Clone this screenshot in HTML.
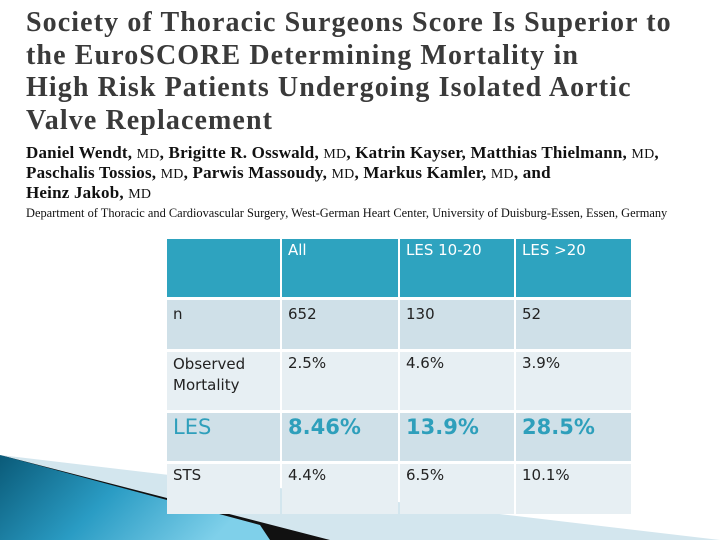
<!DOCTYPE html>
<html><head><meta charset="utf-8"><style>
body{margin:0;width:720px;height:540px;overflow:hidden;background:#fff;position:relative;font-family:"Liberation Serif",serif}
.t{position:absolute;left:26px;top:7px;font-weight:bold;font-size:28px;line-height:32.5px;color:#3a3a3a;letter-spacing:1.1px;white-space:nowrap}
.a{position:absolute;left:26px;top:144px;font-size:17px;line-height:18px;color:#111;font-weight:bold;letter-spacing:0.2px;white-space:nowrap}
.a small{font-size:14px;font-weight:normal}
.d{position:absolute;left:26px;top:206px;font-size:12.4px;color:#111;white-space:nowrap}
table{position:absolute;left:165px;top:236px;border-collapse:separate;border-spacing:2px 3px;font-family:"DejaVu Sans","Liberation Sans",sans-serif;font-size:15px;color:#222}
td{vertical-align:top;padding:2px 6px;box-sizing:border-box}
tr.h td{background:#2ea3bf;color:#fff;height:58px}
tr.dk td{background:#cfe0e8}
tr.lt td{background:#e7eff3}
tr.les td{font-size:21px;font-weight:bold;color:#2e9fbb}
</style></head><body>
<svg style="position:absolute;left:0;top:0" width="720" height="540">
<defs><linearGradient id="g" x1="0" y1="0" x2="1" y2="0.3"><stop offset="0" stop-color="#0a5a78"/><stop offset="0.5" stop-color="#2a9cc4"/><stop offset="1" stop-color="#7fd0ea"/></linearGradient></defs>
<polygon points="0,455 720,540 280,540" fill="#d3e6ee"/>
<polygon points="0,455 330,540 270,540" fill="#111"/>
<polygon points="0,455 260,525 270,540 0,540" fill="url(#g)"/>
</svg>
<div class="t">Society of Thoracic Surgeons Score Is Superior to<br>the EuroSCORE Determining Mortality in<br>High Risk Patients Undergoing Isolated Aortic<br>Valve Replacement</div>
<div class="a">Daniel Wendt, <small>MD</small>, Brigitte R. Osswald, <small>MD</small>, Katrin Kayser, Matthias Thielmann, <small>MD</small>,<br>Paschalis Tossios, <small>MD</small>, Parwis Massoudy, <small>MD</small>, Markus Kamler, <small>MD</small>, and<br>Heinz Jakob, <small>MD</small></div>
<div class="d">Department of Thoracic and Cardiovascular Surgery, West-German Heart Center, University of Duisburg-Essen, Essen, Germany</div>
<table>
<tr class="h"><td style="width:113px"></td><td style="width:116px">All</td><td style="width:114px">LES 10-20</td><td style="width:115px">LES &gt;20</td></tr>
<tr class="dk"><td style="height:49px;padding-top:5px">n</td><td style="padding-top:5px">652</td><td style="padding-top:5px">130</td><td style="padding-top:5px">52</td></tr>
<tr class="lt"><td style="height:58px;line-height:21px">Observed Mortality</td><td>2.5%</td><td>4.6%</td><td>3.9%</td></tr>
<tr class="dk les"><td style="height:48px;font-weight:normal">LES</td><td>8.46%</td><td>13.9%</td><td>28.5%</td></tr>
<tr class="lt"><td style="height:50px">STS</td><td>4.4%</td><td>6.5%</td><td>10.1%</td></tr>
</table>
</body></html>
